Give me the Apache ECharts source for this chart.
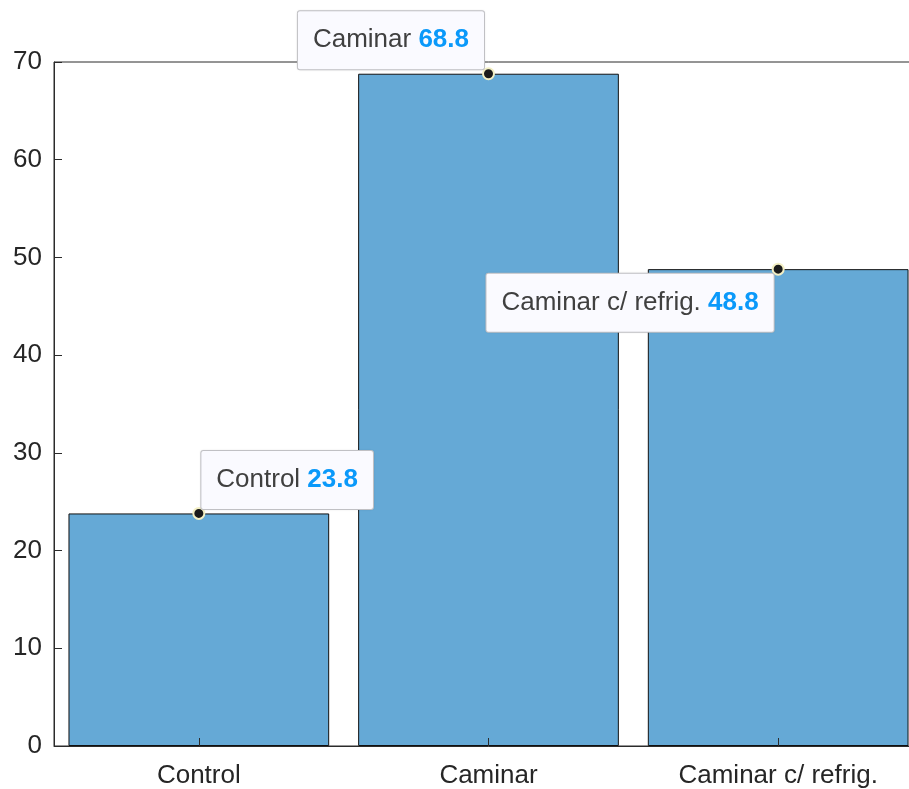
<!DOCTYPE html>
<html>
<head>
<meta charset="utf-8">
<script src="https://cdn.jsdelivr.net/npm/echarts@6/dist/echarts.min.js"></script>
<style>
  html, body { margin: 0; padding: 0; background: #ffffff; overflow: hidden; }
  #wrap { width: 909px; height: 789px; overflow: hidden; position: relative; }
  /* the plot box runs a little past the right edge of the page */
  #chart { width: 923px; height: 789px; position: absolute; left: 0; top: 0; }
</style>
</head>
<body>
<div id="wrap"><div id="chart"></div></div>
<script>
// Group names and measured values
const categories = ['Control', 'Caminar', 'Caminar c/ refrig.'];
const values = [23.8, 68.8, 48.8];
const yTicks = { min: 0, max: 70, step: 10 };

// Where each data tip box sits relative to its point
const tipPlacement = [
  { position: [9, 2], align: 'left', verticalAlign: 'bottom' },
  { position: [2, 2], align: 'right', verticalAlign: 'bottom' },
  { position: [2, 11], align: 'right', verticalAlign: 'top' }
];

const FONT = '"Liberation Sans", Arial, Helvetica, sans-serif';
const AXIS_COLOR = '#2b2b2b';

const chart = echarts.init(document.getElementById('chart'), null, { renderer: 'canvas' });

const tipData = values.map((v, i) => ({
  value: [categories[i], v],
  label: {
    position: tipPlacement[i].position,
    align: tipPlacement[i].align,
    verticalAlign: tipPlacement[i].verticalAlign
  }
}));

chart.setOption({
  animation: false,
  backgroundColor: '#ffffff',
  grid: {
    left: 54, top: 62, right: 0, bottom: 43,
    show: true, borderColor: AXIS_COLOR, borderWidth: 1, backgroundColor: 'transparent'
  },
  xAxis: {
    type: 'category',
    data: categories,
    boundaryGap: true,
    z: 10,
    axisLine: { show: true, lineStyle: { color: AXIS_COLOR, width: 1 } },
    axisTick: { show: true, inside: true, length: 8, alignWithLabel: true, lineStyle: { color: AXIS_COLOR } },
    axisLabel: { color: '#262626', fontFamily: FONT, fontSize: 26, margin: 17 },
    splitLine: { show: false }
  },
  yAxis: {
    type: 'value',
    min: yTicks.min, max: yTicks.max, interval: yTicks.step,
    z: 10,
    axisLine: { show: true, lineStyle: { color: AXIS_COLOR, width: 1 } },
    axisTick: { show: true, inside: true, length: 8, lineStyle: { color: AXIS_COLOR } },
    axisLabel: { color: '#262626', fontFamily: FONT, fontSize: 26, margin: 12 },
    splitLine: { show: false }
  },
  series: [
    {
      type: 'bar',
      data: values,
      barWidth: '90%',
      itemStyle: { color: '#65a9d6', borderColor: '#111111', borderWidth: 1 },
      z: 2
    },
    {
      type: 'scatter',
      data: tipData,
      symbol: 'circle',
      symbolSize: 11,
      itemStyle: { color: '#1a1a1a', borderColor: '#f3efc4', borderWidth: 2, opacity: 1 },
      z: 12,
      label: {
        show: true,
        formatter: (p) => '{n|' + p.value[0] + ' }{v|' + p.value[1].toFixed(1) + '}',
        backgroundColor: '#fafaff',
        borderColor: '#c4c4c8',
        borderWidth: 1,
        borderRadius: 2,
        padding: [14, 15, 14, 15],
        shadowColor: 'rgba(0,0,0,0.08)',
        shadowBlur: 2,
        rich: {
          n: { fontFamily: FONT, fontSize: 26, color: '#404040', lineHeight: 30 },
          v: { fontFamily: FONT, fontSize: 26, color: '#0a99fa', fontWeight: 'bold', lineHeight: 30 }
        }
      }
    }
  ]
});
</script>
</body>
</html>
